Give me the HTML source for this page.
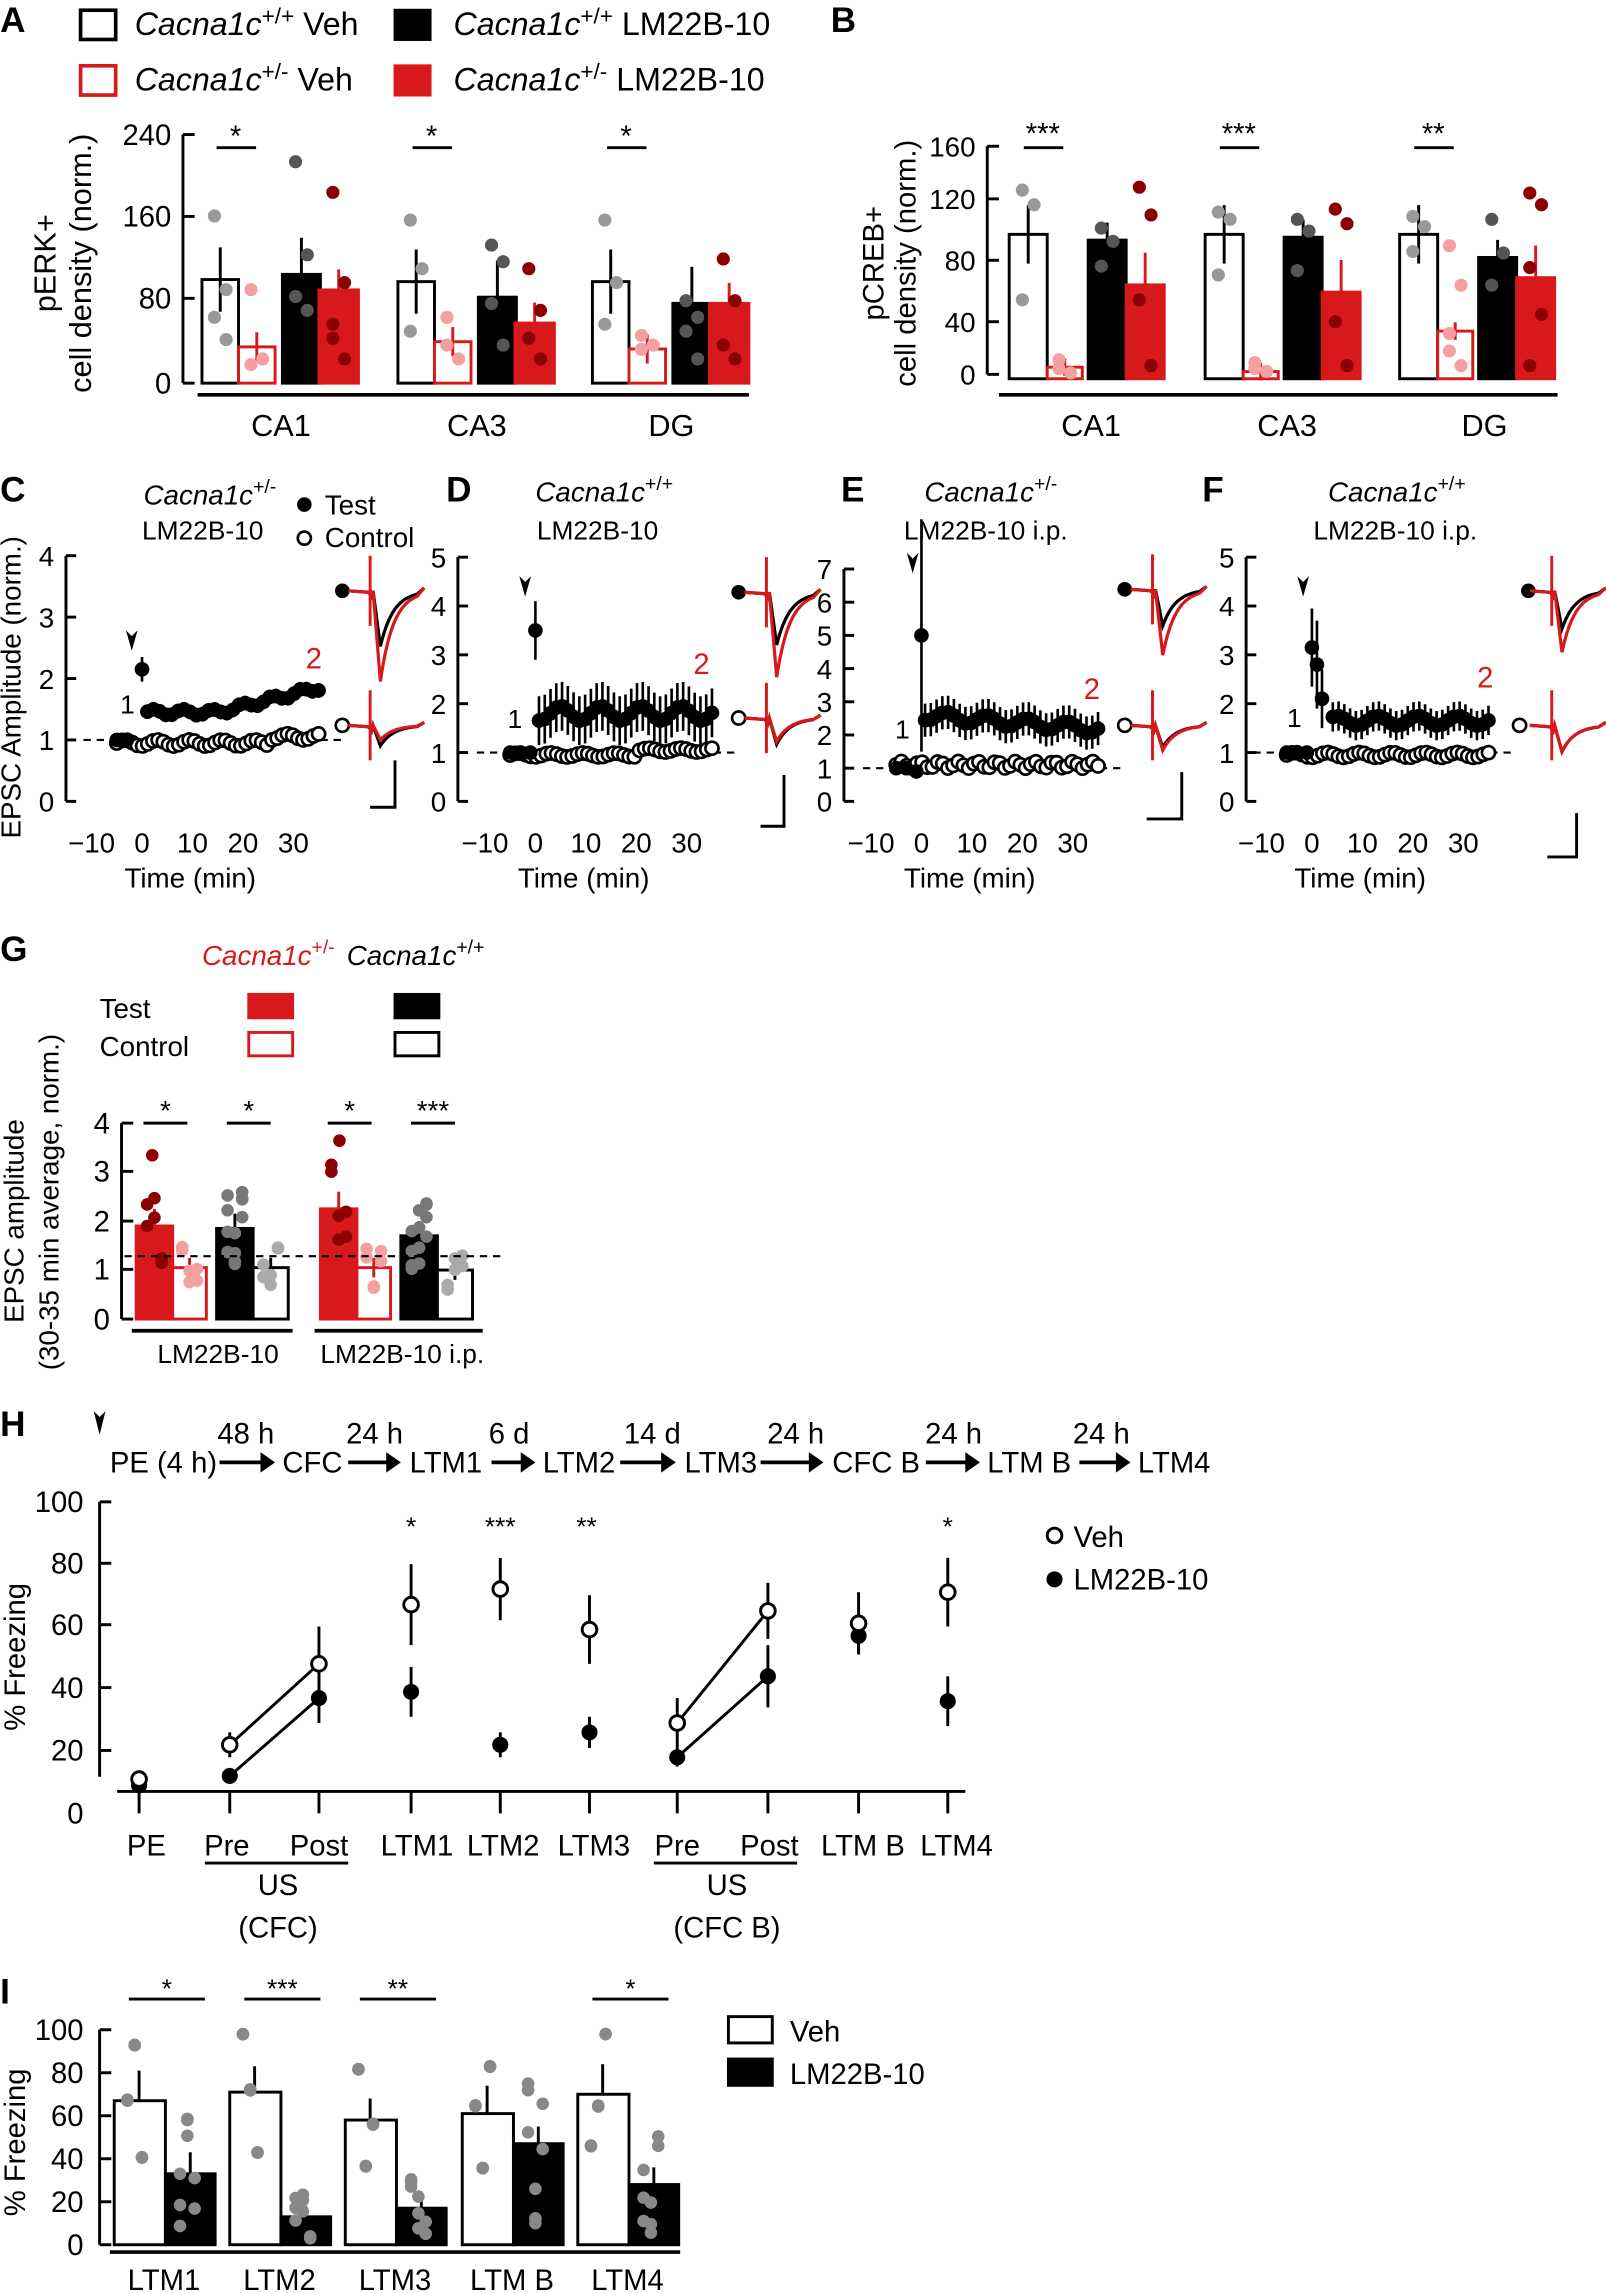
<!DOCTYPE html>
<html><head><meta charset="utf-8"><style>
html,body{margin:0;padding:0;background:#fff}
svg{display:block}
text{font-family:"Liberation Sans",Arial,sans-serif;fill:#000}
</style></head><body>
<svg id="s" width="1606" height="2293" viewBox="0 0 1098 1568" xmlns="http://www.w3.org/2000/svg"></svg>
<script>
const S=document.getElementById('s');let H='';
const R='#d7191c',DR='#8b0000',PK='#f4a0a0',GR='#999';
function t(x,y,s,sz,o){o=o||{};H+=`<text x="${x}" y="${y}" font-size="${sz||19}" ${o.a?`text-anchor="${o.a}"`:''} ${o.w?'font-weight="bold"':''} ${o.i?'font-style="italic"':''} ${o.f?`fill="${o.f}" style="fill:${o.f}"`:''} ${o.r?`transform="rotate(-90 ${x} ${y})"`:''}>${s}</text>`;}
function l(x1,y1,x2,y2,c,w,d){H+=`<line x1="${x1}" y1="${y1}" x2="${x2}" y2="${y2}" stroke="${c||'#000'}" stroke-width="${w||2}" ${d?`stroke-dasharray="${d}"`:''}/>`;}
function r(x,y,w,h,f,s,sw){H+=`<rect x="${x}" y="${y}" width="${w}" height="${h}" fill="${f}" stroke="${s||'none'}" stroke-width="${sw||2}"/>`;}
function c(x,y,rad,f,s,sw){H+=`<circle cx="${x}" cy="${y}" r="${rad}" fill="${f}" stroke="${s||'none'}" stroke-width="${sw||1.5}"/>`;}
function p(d,c,w){H+=`<path d="${d}" fill="none" stroke="${c}" stroke-width="${w||2}"/>`;}
function cac(x,y,sup,sz,f,suf){H+=`<text x="${x}" y="${y}" font-size="${sz}" ${f?`style="fill:${f}"`:''}><tspan font-style="italic">Cacna1c</tspan><tspan dy="-8" font-size="${sz*0.7}">${sup}</tspan>${suf?`<tspan dy="8"> ${suf}</tspan>`:''}</text>`;}
function yax(x,ytop,ybot,ticks,sz){l(x,ytop,x,ybot);ticks.forEach(([v,y])=>{l(x,y,x+8,y);t(x-8,y+7,v,sz||20,{a:'end'});});}
function bar(x,w,base,top,type,err){
 let st={w:['#fff','#000'],k:['#000','#000'],o:['#fff',R],r:[R,R]}[type];
 r(x,top,w,base-top,st[0],st[1],2);
 if(err){let ec=(type=='o')?R:(type=='r'?R:'#000');l(x+w/2,top-err,x+w/2,top+(type=='k'||type=='r'?0:err),ec,2);}
}
[['A',0,22],['B',568,22],['C',0,343],['D',305,343],['E',575,343],['F',822,343],['G',0,657],['H',0,982],['I',0,1370]].forEach(a=>t(a[1],a[2],a[0],24,{w:1}));
r(55,7,24,20,'#fff','#000',2.5);cac(92,24,'+/+',22,null,'Veh');
r(270,7,24,20,'#000','#000',2);cac(310,24,'+/+',22,null,'LM22B-10');
r(55,45,24,20,'#fff',R,2.5);cac(92,62,'+/-',22,null,'Veh');
r(270,45,24,20,R,R,2);cac(310,62,'+/-',22,null,'LM22B-10');
t(38,180,'pERK+',21,{a:'middle',r:1});t(62,180,'cell density (norm.)',21,{a:'middle',r:1});
yax(125,92,262,[['240',92],['160',148],['80',204],['0',262]]);
l(135,270,512,270,'#000',2.5);
function vy(v){return 262-v*170/240;}
const A=[[138,[100,35,105,90]],[272,[98,40,83,58]],[405,[98,33,77,77]]];
const Ad=[[[147,200,220,236],[200,250,254],[108,175,205,215],[130,195,225,250,235]],[[150,185,230],[220,250,240],[168,180,210,240],[185,215,235,250]],[[150,195,225],[233,240,243],[208,220,230,250],[178,208,240,250]]];
A.forEach(([x0,v],gi)=>{const xs=[x0,x0+25,x0+55,x0+80],ws=[25,25,26,27],ty=['w','o','k','r'],cols=[GR,PK,'#555',DR];
 v.forEach((vv,i)=>{bar(xs[i],ws[i],262,vy(vv),ty[i],[22,10,25,14][i]);});
 v.forEach((vv,i)=>{Ad[gi][i].forEach((y,j)=>c(xs[i]+ws[i]/2+(j%2?4:-4),y*0.95+8,4.5,cols[i]));});
 l(x0+10,101,x0+37,101,'#000',2);t(x0+23,100,'*',20,{a:'middle'});
});
t(192,298,'CA1',21,{a:'middle'});t(326,298,'CA3',21,{a:'middle'});t(459,298,'DG',21,{a:'middle'});
t(604,180,'pCREB+',20,{a:'middle',r:1});t(626,180,'cell density (norm.)',20,{a:'middle',r:1});
yax(675,100,256,[['160',100],['120',136],['80',178],['40',220],['0',256]],19);
function by(v){return 259-v*158/160;}
l(683,270,1065,270,'#000',2.5);
const B=[[690,[100,8,96,65],'***'],[824,[100,5,98,60],'***'],[957,[100,33,84,70],'**']];
const Bd=[[[130,140,205],[246,255,252],[156,165,182],[128,147,205,250]],[[145,150,188],[248,254,252],[150,158,185],[143,153,220,250]],[[148,155,172],[168,195,240,250,228],[150,173,195],[132,140,183,215,250]]];
B.forEach(([x0,v,st],gi)=>{const xs=[x0,x0+26,x0+54,x0+80],ws=[26,24,26,26],ty=['w','o','k','r'],cols=[GR,PK,'#555',DR];
 v.forEach((vv,i)=>bar(xs[i],ws[i],259,by(vv),ty[i],[20,6,12,22][i]));
 v.forEach((vv,i)=>Bd[gi][i].forEach((y,j)=>c(xs[i]+ws[i]/2+(j%2?4:-4),y,4.5,cols[i])));
 l(x0+10,101,x0+37,101,'#000',2);t(x0+23,98,st,20,{a:'middle'});
});
t(746,298,'CA1',21,{a:'middle'});t(880,298,'CA3',21,{a:'middle'});t(1015,298,'DG',21,{a:'middle'});
t(14,470,'EPSC Amplitude (norm.)',19,{a:'middle',r:1});
function trace(x0,y0,dB,dR){
 function d(dep,col){let s=`M${x0},${y0}L${x0+14},${y0+1}L${x0+16},${y0+4}`;for(let i=0;i<=30;i++){let yy=y0+dep*(i<5?i/5:Math.exp(-(i-5)/9));s+=`L${x0+17+i},${yy.toFixed(1)}`;}s+=`L${x0+52},${y0-2}`;p(s,col,2.2);}
 d(dB,'#000');d(dR,R);l(x0+15,y0-24,x0+15,y0+24,R,2);
}
function ts(ax,ybase,unit,x0t,tests,ctrl,yticks){
 let yt=ybase-yticks*unit;l(ax,yt,ax,ybase);for(let v=0;v<=yticks;v++){let y=ybase-v*unit;l(ax,y,ax+7,y);t(ax-8,y+7,v,19,{a:'end'});}
 [-10,0,10,20,30].forEach(v=>t(x0t+v*3.45,583,v==-10?'\u221210':v,19,{a:'middle'}));
 t(x0t+33,607,'Time (min)',19,{a:'middle'});
 l(x0t-40,ybase-unit,x0t+140,ybase-unit,'#000',1.5,'5,4');
 ctrl.forEach(([tm,v,e])=>{let x=x0t+tm*3.45,y=ybase-v*unit;if(e)l(x,y-e*unit,x,y+e*unit,'#000',1.5);c(x,y,4.5,'#fff','#000',1.8);});
 tests.forEach(([tm,v,e])=>{let x=x0t+tm*3.45,y=ybase-v*unit;if(e)l(x,y-e*unit,x,y+e*unit,'#000',1.8);c(x,y,5,'#000');});
}
function mk(f,n){let a=[];for(let i=0;i<n;i++){let tm=-5+i*(40/(n-1));a.push(f(tm,i));}return a;}
ts(45,548,42,97,
 [[-5,1.0,0.05],[-3,1.0,0.05],[0,2.15,0.2]].concat(mk((tm,i)=>[tm,1.45+Math.max(0,tm-15)*0.02+0.05*Math.sin(i*1.3),0.12],34).filter(a=>a[0]>0.5)),
 mk((tm,i)=>[tm,0.95+0.05*Math.sin(i)+(tm>25?0.1:0),0.05],40),4);
t(82,488,'1',18);t(209,457,'2',20,{f:R});H+=`<path d="M86,431 l4,14 l4,-14 l-4,4z" fill="#000"/>`;
cac(98,345,'+/-',19);t(97,369,'LM22B-10',18);
c(208,345,5,'#000');t(222,352,'Test',19);c(208,368,4.5,'#fff','#000',1.8);t(222,374,'Control',19);
c(234,404,5,'#000');c(234,496,4.5,'#fff','#000',1.8);trace(238,404,38,62);trace(238,496,14,10);
p('M253,552 L270,552 L270,520','#000',2);
ts(313,548,33.4,366,
 [[-5,1.0,0.05],[-3,1.0,0.05],[-1,1.0,0.05],[0,3.5,0.6]].concat(mk((tm,i)=>[tm,1.8+0.15*Math.sin(i*0.9),0.5],36).filter(a=>a[0]>0.5)),
 mk((tm,i)=>[tm,0.95+0.04*Math.sin(i)+(tm>20?0.1:0),0.06],40),5);
t(347,498,'1',18);t(474,461,'2',20,{f:R});H+=`<path d="M355,394 l4,14 l4,-14 l-4,4z" fill="#000"/>`;
cac(366,343,'+/+',19);t(367,369,'LM22B-10',18);
c(505,405,5,'#000');c(505,491,4.5,'#fff','#000',1.8);trace(509,405,36,58);trace(509,491,18,16);
p('M520,565 L536,565 L536,530','#000',2);
ts(577,548,22.7,630,
 [[-5,1.0,0.05],[-3,1.0,0.05],[-1,0.9,0.05],[0,5,3.5]].concat(mk((tm,i)=>[tm,2.6-Math.max(0,tm)*0.012+0.15*Math.sin(i*0.9),0.5],36).filter(a=>a[0]>0.5)),
 mk((tm,i)=>[tm,1.1+0.1*Math.sin(i*1.7),0.12],40),7);
t(612,505,'1',18);t(741,478,'2',20,{f:R});H+=`<path d="M620,378 l4,14 l4,-14 l-4,4z" fill="#000"/>`;
cac(632,343,'+/-',19);t(618,369,'LM22B-10 i.p.',18);
c(769,403,5,'#000');c(769,496,4.5,'#fff','#000',1.8);trace(773,403,25,45);trace(773,496,15,17);
p('M784,560 L808,560 L808,528','#000',2);
ts(852,548,33.4,897,
 [[-5,1.0,0.05],[-3,1.0,0.05],[-1,1.0,0.05],[0,3.15,0.8],[1,2.8,0.9],[2,2.1,0.6]].concat(mk((tm,i)=>[tm,1.65+0.1*Math.sin(i*0.9),0.3],36).filter(a=>a[0]>3)),
 mk((tm,i)=>[tm,0.95+0.05*Math.sin(i),0.08],40),5);
t(880,497,'1',18);t(1010,470,'2',20,{f:R});H+=`<path d="M887,394 l4,14 l4,-14 l-4,4z" fill="#000"/>`;
cac(908,343,'+/+',19);t(898,369,'LM22B-10 i.p.',18);
c(1045,404,5,'#000');c(1039,496,4.5,'#fff','#000',1.8);trace(1046,404,26,42);trace(1046,496,18,18);
p('M1058,586 L1078,586 L1078,556','#000',2);
cac(138,660,'+/-',19,R);cac(237,660,'+/+',19);
t(68,696,'Test',19);t(68,722,'Control',19);
r(170,680,30,16,R,R,2);r(170,706,30,16,'#fff',R,2);r(270,680,30,16,'#000','#000',2);r(270,706,30,16,'#fff','#000',2);
t(16,835,'EPSC amplitude',19,{a:'middle',r:1});t(40,822,'(30-35 min average, norm.)',19,{a:'middle',r:1});
yax(83,768,902,[['4',768],['3',801],['2',835],['1',868],['0',902]]);
function gy(v){return 902-v*33.5;}
const G=[[93,[1.9,1.05,1.85,1.05]],[219,[2.25,1.05,1.7,1.0]]];
G.forEach(([x0,v],gi)=>{const xs=[x0,x0+25,x0+55,x0+80],ws=[25,23,25,24],ty=['r','o','k','w'],cols=[DR,PK,'#777','#aaa'];
 v.forEach((vv,i)=>bar(xs[i],ws[i],902,gy(vv),ty[i],[0.35,0.2,0.3,0.2][i]*33.5));
 v.forEach((vv,i)=>{for(let j=0;j<(i==2?12:6);j++){let val=vv+(Math.sin(j*2.3+gi+i)*0.8*vv*0.5);c(xs[i]+ws[i]/2+(j%3-1)*5,gy(val),4.3,cols[i]);}});
 l(x0+5,768,x0+35,768,'#000',2);t(x0+20,766,'*',19,{a:'middle'});
 l(x0+62,768,x0+92,768,'#000',2);t(x0+77,766,gi?'***':'*',19,{a:'middle'});
});
c(104,790,4.3,DR);c(232,780,4.3,DR);
l(85,859,342,859,'#000',1.5,'5,4');
l(90,910,200,910,'#000',2.5);l(215,910,330,910,'#000',2.5);
t(149,932,'LM22B-10',18,{a:'middle'});t(275,932,'LM22B-10 i.p.',18,{a:'middle'});
H+=`<path d="M64,965 l4,16 l4,-16 l-4,4z" fill="#000"/>`;
t(75,1007,'PE (4 h)',20);t(168,987,'48 h',20,{a:'middle'});t(193,1007,'CFC',20);
t(256,987,'24 h',20,{a:'middle'});t(280,1007,'LTM1',20);t(348,987,'6 d',20,{a:'middle'});t(371,1007,'LTM2',20);
t(446,987,'14 d',20,{a:'middle'});t(468,1007,'LTM3',20);t(544,987,'24 h',20,{a:'middle'});t(569,1007,'CFC B',20);
t(652,987,'24 h',20,{a:'middle'});t(675,1007,'LTM B',20);t(753,987,'24 h',20,{a:'middle'});t(778,1007,'LTM4',20);
[[150,188],[238,274],[336,366],[424,462],[520,563],[633,670],[738,773]].forEach(([a,b])=>{l(a,1000,b-8,1000,'#000',2.5);H+=`<path d="M${b-10},993 L${b},1000 L${b-10},1007z" fill="#000"/>`;});
H+=`<text x="17" y="1133" font-size="20" text-anchor="middle" transform="rotate(-90 17 1133)">% Freezing</text>`;
[[100,1027],[80,1069],[60,1111],[40,1154],[20,1197],[0,1240]].forEach(([v,y])=>t(57,y+7,v,20,{a:'end'}));
l(68,1027,68,1215);[1027,1069,1111,1154,1197].forEach(y=>l(68,y,76,y));
l(80,1225,660,1225,'#000',2);
const HX=[95,157,218,281,342,403,463,525,587,648];
HX.forEach(x=>l(x,1225,x,1240,'#000',2));
function hy(v){return 1240-v*2.13;}
const V=[[11,0],[22,4],[48,12],[67,13],[72,10],[59,11],[29,8],[65,9],[61,10],[71,11]];
const L=[[9,0],[12,2],[37,8],[39,8],[22,4],[26,5],[18,3],[44,10],[57,6],[36,8]];
l(HX[1],hy(V[1][0]),HX[2],hy(V[2][0]),'#000',2);l(HX[1],hy(L[1][0]),HX[2],hy(L[2][0]),'#000',2);
l(HX[6],hy(V[6][0]),HX[7],hy(V[7][0]),'#000',2);l(HX[6],hy(L[6][0]),HX[7],hy(L[7][0]),'#000',2);
HX.forEach((x,i)=>{l(x,hy(V[i][0]+V[i][1]),x,hy(V[i][0]-V[i][1]),'#000',2);l(x,hy(L[i][0]+L[i][1]),x,hy(L[i][0]-L[i][1]),'#000',2);
 c(x,hy(L[i][0]),5.5,'#000');c(x,hy(V[i][0]),5,'#fff','#000',2);});
t(281,1050,'*',18,{a:'middle'});t(342,1050,'***',18,{a:'middle'});t(401,1050,'**',18,{a:'middle'});t(648,1050,'*',18,{a:'middle'});
c(721,1050,5,'#fff','#000',2);t(734,1058,'Veh',20);c(721,1080,5.5,'#000');t(734,1087,'LM22B-10',20);
t(100,1269,'PE',20,{a:'middle'});t(155,1269,'Pre',20,{a:'middle'});t(218,1269,'Post',20,{a:'middle'});
t(285,1269,'LTM1',20,{a:'middle'});t(344,1269,'LTM2',20,{a:'middle'});t(406,1269,'LTM3',20,{a:'middle'});
t(463,1269,'Pre',20,{a:'middle'});t(526,1269,'Post',20,{a:'middle'});t(590,1269,'LTM B',20,{a:'middle'});t(654,1269,'LTM4',20,{a:'middle'});
l(140,1274,238,1274,'#000',2);l(447,1274,545,1274,'#000',2);
t(190,1296,'US',20,{a:'middle'});t(190,1325,'(CFC)',20,{a:'middle'});t(497,1296,'US',20,{a:'middle'});t(497,1325,'(CFC B)',20,{a:'middle'});
H+=`<text x="17" y="1465" font-size="20" text-anchor="middle" transform="rotate(-90 17 1465)">% Freezing</text>`;
function iy(v){return 1535-v*1.47;}
[100,80,60,40,20,0].forEach(v=>{t(57,iy(v)+7,v,20,{a:'end'});});
l(68,1388,68,1535);[100,80,60,40,20,0].forEach(v=>l(68,iy(v),76,iy(v)));
l(75,1540,465,1540,'#000',2.5);
const I=[[78,67,33,14,10,'*','LTM1'],[157,71,13,12,5,'***','LTM2'],[236,58,17,10,6,'**','LTM3'],[316,61,47,13,8,'','LTM B'],[395,70,28,14,8,'*','LTM4']];
I.forEach(([x,a,b,ea,eb,st,lab],gi)=>{r(x,iy(a),35,iy(0)-iy(a),'#fff','#000',2);l(x+17,iy(a+ea),x+17,iy(a),'#000',2);
 r(x+35,iy(b),34,iy(0)-iy(b),'#000','#000',2);l(x+52,iy(b+eb),x+52,iy(b),'#000',2);
 for(let j=0;j<6;j++){let v=a+Math.sin(j*2.1+gi)*a*0.45;v=Math.min(98,Math.max(12,v));c(x+14+(j%3-1)*5,iy(v),4.3,'#888');}
 for(let j=0;j<8;j++){let v=b+Math.sin(j*1.9+gi)*b*0.8;v=Math.min(75,Math.max(3,v));c(x+50+(j%3-1)*5,iy(v),4.3,'#888');}
 if(st){l(x+10,1367,x+62,1367,'#000',2);t(x+36,1366,st,18,{a:'middle'});}
 t(x+34,1566,lab,20,{a:'middle'});
});
r(498,1379,30,18,'#fff','#000',2);t(540,1396,'Veh',20);r(498,1408,30,18,'#000','#000',2);t(540,1425,'LM22B-10',20);
S.innerHTML=H;
</script>
</body></html>
